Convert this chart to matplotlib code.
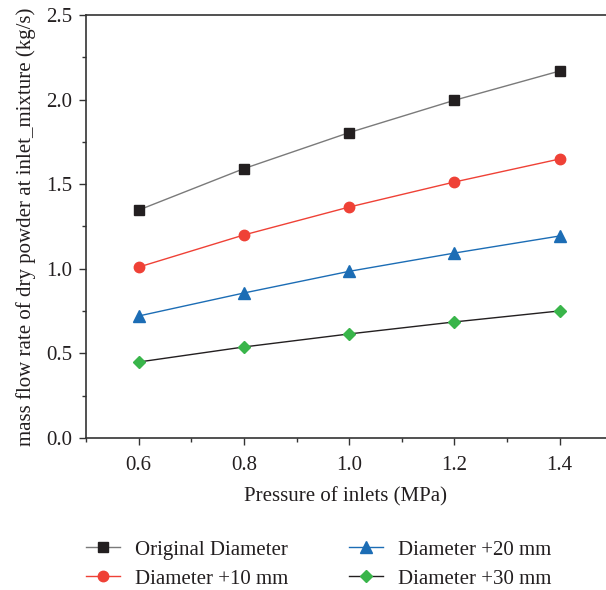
import matplotlib
matplotlib.use("Agg")
import matplotlib.pyplot as plt
from matplotlib.ticker import MultipleLocator

pressure = [0.6, 0.8, 1.0, 1.2, 1.4]
original = [1.347, 1.592, 1.805, 1.996, 2.169]
d10 = [1.010, 1.200, 1.365, 1.513, 1.649]
d20 = [0.721, 0.857, 0.985, 1.093, 1.194]
d30 = [0.449, 0.538, 0.615, 0.686, 0.751]
labels = ["Original Diameter", "Diameter +10 mm", "Diameter +20 mm", "Diameter +30 mm"]

plt.rcParams['font.family'] = ['Liberation Serif', 'DejaVu Serif']

fig = plt.figure(figsize=(6.06, 5.90), dpi=100)
ax = fig.add_axes([86/606, 1-438/590, 1-86/606, (438-15)/590])

ax.plot(pressure, original, color='#7a7a7a', lw=1.0, marker='s', ms=6.5,
        mfc='#231f20', mec='#231f20', label=labels[0])
ax.plot(pressure, d10, color='#ef4136', lw=1.0, marker='o', ms=7.5,
        mfc='#ef4136', mec='#ef4136', label=labels[1])
ax.plot(pressure, d20, color='#1c6db5', lw=1.0, marker='^', ms=8.5,
        mfc='#1c6db5', mec='#1c6db5', label=labels[2])
ax.plot(pressure, d30, color='#231f20', lw=1.0, marker='D', ms=6.5,
        mfc='#39b54a', mec='#39b54a', label=labels[3])

ax.set_xlim(0.5, 1.488)
ax.set_ylim(0.0, 2.5)
ax.xaxis.set_minor_locator(MultipleLocator(0.1))
ax.yaxis.set_minor_locator(MultipleLocator(0.25))
ax.set_xticks(pressure)
ax.set_xticklabels([f"{p:.1f}" for p in pressure])
yt = [0, 0.5, 1.0, 1.5, 2.0, 2.5]
ax.set_yticks(yt)
ax.set_yticklabels([f"{v:.1f}" for v in yt])
ax.spines['right'].set_visible(False)
for s in ['left', 'bottom', 'top']:
    ax.spines[s].set_color('#333333')
    ax.spines[s].set_linewidth(1.2)
ax.tick_params(which='major', direction='out', length=5, width=1.0, colors='#333333',
               labelsize=15, labelcolor='#231f20', pad=5)
ax.tick_params(axis='x', which='major', pad=8)
ax.tick_params(which='minor', direction='out', length=3, width=1.0, colors='#333333')

ax.set_xlabel("Pressure of inlets (MPa)", fontsize=15, color='#231f20', labelpad=9)
ax.set_ylabel("mass flow rate of dry powder at inlet_mixture (kg/s)", fontsize=15,
              color='#231f20', labelpad=7)

fig.legend(loc='upper left', bbox_to_anchor=(86/606, 1-540/590), ncol=2,
           frameon=False, fontsize=15, handlelength=1.65, handletextpad=0.7,
           columnspacing=2.9, labelspacing=0.45, borderpad=0, borderaxespad=0,
           labelcolor='#231f20')

fig.savefig("out.png", dpi=100)
